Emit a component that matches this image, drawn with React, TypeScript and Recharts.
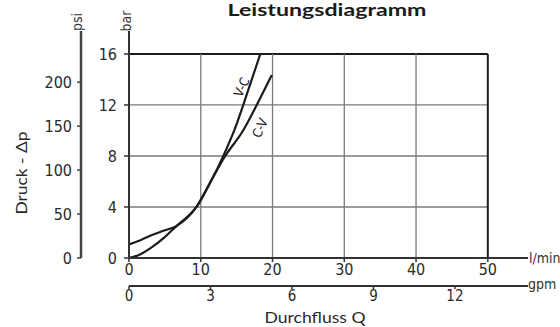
import React from "react";
import {
  LineChart,
  Line,
  XAxis,
  YAxis,
  ReferenceLine,
  ReferenceDot,
} from "recharts";

// flow in l/min, pressure in bar
const vcFlow = [0, 1.6, 3.2, 4.9, 6.6, 9.4, 11.3, 13.1, 14.8, 16.1, 18.3];
const vcBar = [0, 0.3, 0.85, 1.6, 2.5, 4.0, 5.9, 7.95, 10.2, 12.3, 16];
const cvFlow = [0, 1.6, 3.2, 4.9, 6.6, 9.4, 11.3, 13.3, 15.9, 17.8, 19.9];
const cvBar = [1.07, 1.4, 1.8, 2.15, 2.5, 4.0, 5.9, 7.9, 10, 12.0, 14.35];

const flowTicks = [0, 10, 20, 30, 40, 50];
const barTicks = [0, 4, 8, 12, 16];
const psiTicks = [0, 50, 100, 150, 200];
const gpmTicks = [0, 3, 6, 9, 12];

const FLOW_GRID_MAX = 50;
const BAR_GRID_MAX = 16;
const FLOW_AXIS_MAX = 55.6;
const BAR_AXIS_MAX = 17.8;
const PSI_PER_BAR = 14.5038;
const LPM_PER_GPM = 3.785;

const vcData = vcFlow.map((q, i) => ({ q, p: vcBar[i] }));
const cvData = cvFlow.map((q, i) => ({ q, p: cvBar[i] }));

const ink = "#1c1c1c";
const gridGray = "#7a7a7a";
const narrow = "'Liberation Sans Narrow', 'DejaVu Sans Condensed', 'Liberation Sans', sans-serif";
const tickFont = { fill: "#2a2a2a", fontSize: 16, fontFamily: narrow };
const labelFont = "Lato, 'Open Sans', sans-serif";

function curveLabel(text: string) {
  return (props: any) => (
    <text
      x={props.cx}
      y={props.cy}
      transform={`rotate(-65, ${props.cx}, ${props.cy})`}
      textAnchor="middle"
      dominantBaseline="central"
      fontSize={13}
      fontFamily={narrow}
      fill={ink}
    >
      {text}
    </text>
  );
}

export default function App() {
  return (
    <div style={{ position: "absolute", left: 0, top: 0, width: 560, height: 327, background: "#fff" }}>
      <LineChart
        width={560}
        height={327}
        margin={{ top: 31, right: 32, bottom: 21, left: 41 }}
      >
        <XAxis
          xAxisId="a_lpm"
          dataKey="q"
          type="number"
          domain={[0, FLOW_AXIS_MAX]}
          ticks={flowTicks}
          allowDataOverflow
          height={28}
          tick={tickFont}
          tickSize={4}
          tickMargin={2}
          axisLine={{ stroke: "#333", strokeWidth: 2 }}
          tickLine={{ stroke: "#333", strokeWidth: 1.5 }}
        />
        <XAxis
          xAxisId="b_gpm"
          dataKey="gpm"
          type="number"
          domain={[0, FLOW_AXIS_MAX / LPM_PER_GPM]}
          ticks={gpmTicks}
          allowDataOverflow
          height={20}
          tick={{ ...tickFont, fontSize: 15 }}
          tickSize={3}
          tickMargin={1}
          axisLine={{ stroke: "#333", strokeWidth: 2 }}
          tickLine={{ stroke: "#333", strokeWidth: 1.5 }}
        />
        <YAxis
          yAxisId="a_bar"
          type="number"
          domain={[0, BAR_AXIS_MAX]}
          ticks={barTicks}
          allowDataOverflow
          width={48}
          tick={tickFont}
          tickSize={5}
          tickMargin={7}
          axisLine={{ stroke: "#333", strokeWidth: 2 }}
          tickLine={{ stroke: "#333", strokeWidth: 1.5 }}
        />
        <YAxis
          yAxisId="b_psi"
          type="number"
          domain={[0, BAR_AXIS_MAX * PSI_PER_BAR]}
          ticks={psiTicks}
          allowDataOverflow
          width={40}
          tick={tickFont}
          tickSize={4}
          tickMargin={5}
          axisLine={{ stroke: "#444", strokeWidth: 2.5 }}
          tickLine={{ stroke: "#444", strokeWidth: 1.5 }}
        />

        {barTicks.slice(1).map((v) => (
          <ReferenceLine
            key={`h${v}`}
            xAxisId="a_lpm"
            yAxisId="a_bar"
            segment={[{ x: 0, y: v }, { x: FLOW_GRID_MAX, y: v }]}
            stroke={v === BAR_GRID_MAX ? ink : gridGray}
            strokeWidth={v === BAR_GRID_MAX ? 2 : 1.3}
          />
        ))}
        {flowTicks.slice(1).map((v) => (
          <ReferenceLine
            key={`v${v}`}
            xAxisId="a_lpm"
            yAxisId="a_bar"
            segment={[{ x: v, y: 0 }, { x: v, y: BAR_GRID_MAX }]}
            stroke={v === FLOW_GRID_MAX ? ink : gridGray}
            strokeWidth={v === FLOW_GRID_MAX ? 2 : 1.3}
          />
        ))}

        <Line
          xAxisId="a_lpm"
          yAxisId="a_bar"
          data={vcData}
          dataKey="p"
          type="monotone"
          stroke={ink}
          strokeWidth={2.2}
          dot={false}
          isAnimationActive={false}
        />
        <Line
          xAxisId="a_lpm"
          yAxisId="a_bar"
          data={cvData}
          dataKey="p"
          type="monotone"
          stroke={ink}
          strokeWidth={2.2}
          dot={false}
          isAnimationActive={false}
        />
        <ReferenceDot xAxisId="a_lpm" yAxisId="a_bar" x={15.7} y={13.4} r={0} shape={curveLabel("V-C")} />
        <ReferenceDot xAxisId="a_lpm" yAxisId="a_bar" x={18.25} y={10.2} r={0} shape={curveLabel("C-V")} />
      </LineChart>

      <svg
        width={560}
        height={327}
        style={{ position: "absolute", left: 0, top: 0, pointerEvents: "none" }}
      >
        <text x={327} y={16} textAnchor="middle" fontSize={17} fontWeight={700} fontFamily={labelFont} fill="#1a1a1a" textLength={199} lengthAdjust="spacingAndGlyphs">
          Leistungsdiagramm
        </text>
        <text x={82} y={22} transform="rotate(-90, 82, 22)" textAnchor="middle" fontSize={14} fontFamily={narrow} fill="#333">
          psi
        </text>
        <text x={131} y={21} transform="rotate(-90, 131, 21)" textAnchor="middle" fontSize={14} fontFamily={narrow} fill="#333">
          bar
        </text>
        <text x={27} y={173} transform="rotate(-90, 27, 173)" textAnchor="middle" fontSize={16} fontFamily={labelFont} fill="#2a2a2a" textLength={83} lengthAdjust="spacingAndGlyphs">
          Druck - Δp
        </text>
        <text x={529} y={263} fontSize={14} fontFamily={narrow} fill="#333">
          l/min
        </text>
        <text x={528} y={289} fontSize={14} fontFamily={narrow} fill="#333">
          gpm
        </text>
        <text x={315} y={323} textAnchor="middle" fontSize={16} fontFamily={labelFont} fill="#2a2a2a" textLength={101} lengthAdjust="spacingAndGlyphs">
          Durchfluss Q
        </text>
      </svg>
    </div>
  );
}
